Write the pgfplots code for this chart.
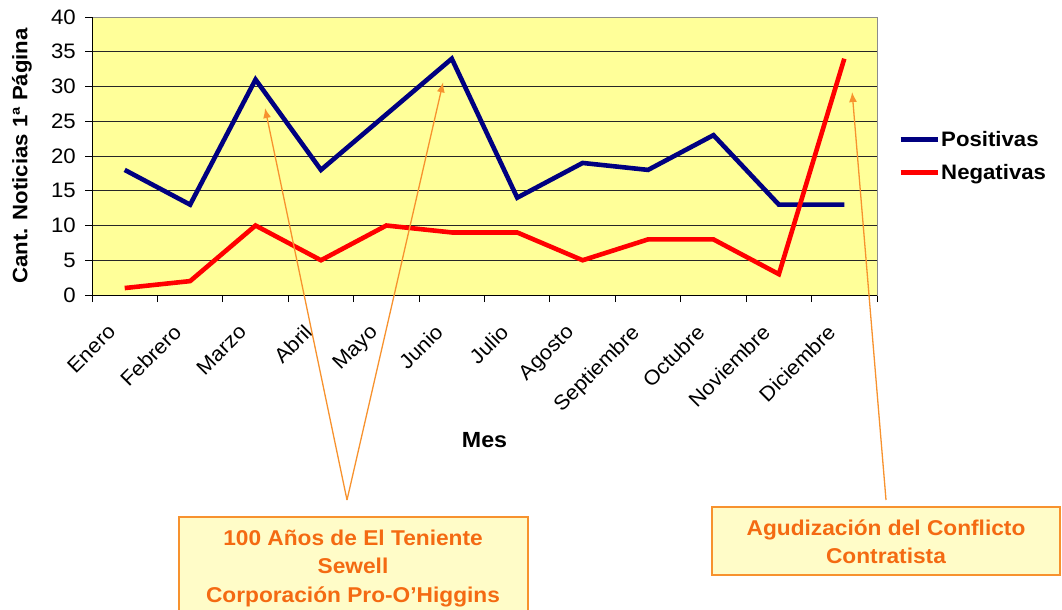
\documentclass[border=0pt]{standalone}
\usepackage{fontspec}
\setmainfont[FakeStretch=1.06]{Liberation Sans}
\usepackage{pgfplots}
\pgfplotsset{compat=1.18}
\usetikzlibrary{arrows.meta}
\definecolor{plotbg}{HTML}{FFFF99}
\definecolor{navyline}{HTML}{000080}
\definecolor{orangeline}{HTML}{F7922E}
\definecolor{boxfill}{HTML}{FFFCC8}
\definecolor{boxtext}{HTML}{F46A12}
\definecolor{framegray}{HTML}{8C8C8C}
\begin{document}
\begin{tikzpicture}
\useasboundingbox (0bp,0bp) rectangle (1062bp,-610bp);
\begin{axis}[
  at={(92bp,-295bp)}, anchor=south west,
  width=785bp, height=278bp, scale only axis,
  xmin=-0.5, xmax=11.5, ymin=0, ymax=40,
  clip=false,
  axis background/.style={fill=plotbg},
  axis line style={draw=framegray, line width=1bp},
  ytick={0,5,...,40},
  xtick={0,...,11},
  xticklabels={Enero,Febrero,Marzo,Abril,Mayo,Junio,Julio,Agosto,Septiembre,Octubre,Noviembre,Diciembre},
  major x tick style={draw=none},
  minor xtick={-0.5,0.5,...,11.5},
  tick align=outside,
  major tick length=7bp, minor tick length=7bp,
  every tick/.style={black, line width=1bp},
  xtick pos=bottom, ytick pos=left,
  ymajorgrids,
  grid style={black!85, line width=1bp},
  /pgf/number format/assume math mode=true,
  yticklabel style={font=\fontsize{21}{21}\selectfont, inner sep=2bp, xshift=-7bp},
  xticklabel style={font=\fontsize{20.6}{20.6}\selectfont, xshift=-18bp, yshift=-21bp, rotate=45, anchor=north east, inner sep=0bp},
  ylabel={\bfseries Cant. Noticias 1ª Página},
  ylabel style={font=\fontsize{21}{21}\selectfont, at={(axis description cs:-0.0892,0.5)}, anchor=center},
  xlabel={\bfseries Mes},
  xlabel style={font=\fontsize{22}{22}\selectfont, at={(axis description cs:0.5,-0.5216)}, anchor=center},
  legend style={at={(axis description cs:1.0268,0.5)}, anchor=west, draw=none, fill=none,
    font=\bfseries\fontsize{21}{21}\selectfont, row sep=15bp, inner sep=0bp,
    nodes={inner sep=1bp}},
  legend cell align=left,
  legend image code/.code={\draw[#1, line width=5bp] (0bp,0bp) -- (37bp,0bp);},
]
\addplot[navyline, line width=4.6bp] coordinates {
 (0,18) (1,13) (2,31) (3,18) (4,26) (5,34) (6,14) (7,19) (8,18) (9,23) (10,13) (11,13)};
\addlegendentry{Positivas}
\addplot[red, line width=4.6bp] coordinates {
 (0,1) (1,2) (2,10) (3,5) (4,10) (5,9) (6,9) (7,5) (8,8) (9,8) (10,3) (11,34)};
\addlegendentry{Negativas}
\draw[black, line width=1bp] (rel axis cs:0,1) -- (rel axis cs:0,0) -- (rel axis cs:1,0);
\coordinate (t1) at (axis cs:2.145,26.9);
\coordinate (t2) at (axis cs:4.867,30.6);
\coordinate (t3) at (axis cs:11.12,29.2);
\end{axis}
\draw[orangeline, line width=1.3bp, -{Latex[length=10bp,width=8bp]}] (347bp,-500bp) -- (t1);
\draw[orangeline, line width=1.3bp, -{Latex[length=10bp,width=8bp]}] (347bp,-500bp) -- (t2);
\draw[orangeline, line width=1.3bp, -{Latex[length=10bp,width=8bp]}] (886bp,-500bp) -- (t3);
\draw[orangeline, fill=boxfill, line width=1.5bp] (179bp,-517bp) rectangle (528bp,-615bp);
\draw[orangeline, fill=boxfill, line width=1.5bp] (712bp,-507bp) rectangle (1060bp,-575bp);
\begin{scope}[every node/.style={text=boxtext, font=\bfseries\fontsize{21.5}{21.5}\selectfont, inner sep=0bp, anchor=base}]
\node at (353bp,-545bp) {100 Años de El Teniente};
\node at (353bp,-573bp) {Sewell};
\node at (353bp,-602bp) {Corporación Pro-O’Higgins};
\node at (886bp,-535bp) {Agudización del Conflicto};
\node at (886bp,-563bp) {Contratista};
\end{scope}
\end{tikzpicture}
\end{document}
